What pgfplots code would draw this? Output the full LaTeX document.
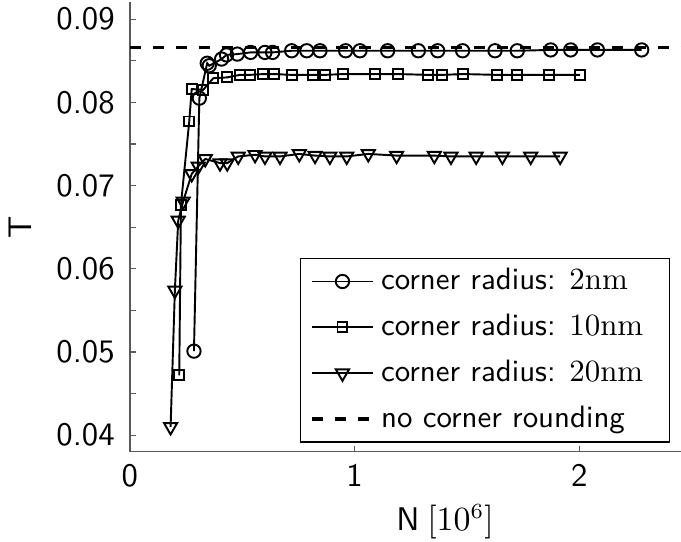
\documentclass[border=0pt]{standalone}
\usepackage{pgfplots}
\pgfplotsset{compat=1.18}
\begin{document}
\begin{tikzpicture}[font=\sffamily]
\begin{axis}[
  scale only axis, width=177.7bp, height=144.9bp,
  xmin=0, xmax=2.453, ymin=0.038, ymax=0.092,
  axis x line*=bottom, axis y line*=left,
  axis line style={black!65, line width=0.4bp},
  tick align=inside,
  major tick length=1.8bp, minor tick length=1.8bp,
  every tick/.style={black!65, line width=0.4bp},
  xtick={0,1,2}, xticklabels={0,1,2},
  ytick={0.04,0.05,0.06,0.07,0.08,0.09},
  yticklabels={0.04,0.05,0.06,0.07,0.08,0.09},
  minor ytick={0.045,0.055,0.065,0.075,0.085},
  tick label style={font=\fontsize{10.6}{12}\selectfont\sffamily},
  yticklabel style={xshift=-1.4bp},
  xticklabel style={yshift=-0.6bp},
  xlabel={N\hspace{2.5bp}$[10^6]$}, ylabel={T},
  label style={font=\fontsize{10.6}{12}\selectfont\sffamily},
  xlabel style={at={(ticklabel cs:0.572)}, anchor=near ticklabel, yshift=1.3bp},
  ylabel style={yshift=1.3bp},
  clip=false,
  legend cell align=left,
  legend style={at={(rel axis cs:0.3085,0.02)}, anchor=south west,
    draw=black, line width=0.5bp, row sep=2.4bp, inner ysep=1.2bp, font=\sffamily},
  legend image code/.code={\draw[mark repeat=2,mark phase=2] plot coordinates {(0cm,0cm) (0.35cm,0cm) (0.7cm,0cm)};},
]
\addplot[black, line width=0.62bp, mark=o, mark size=2.15bp, mark options={solid, line width=0.62bp}] coordinates {
(0.285,0.0501) (0.309,0.0805) (0.344,0.0847) (0.353,0.0844) (0.408,0.0852)
(0.430,0.0857) (0.478,0.0858) (0.537,0.0860) (0.601,0.0860) (0.635,0.0860)
(0.720,0.0862) (0.787,0.0862) (0.846,0.0862) (0.960,0.0862) (1.024,0.0862)
(1.147,0.0862) (1.284,0.0862) (1.370,0.0862) (1.481,0.0862) (1.625,0.0862)
(1.724,0.0862) (1.873,0.0863) (1.962,0.0863) (2.081,0.0863) (2.278,0.0863)
};
\addlegendentry{\makebox[88bp][l]{corner radius: $\mathrm{2nm}$}}
\addplot[black, line width=0.62bp, mark=square, mark size=1.6bp, mark options={solid, line width=0.62bp}] coordinates {
(0.2195,0.0472) (0.227,0.0677) (0.264,0.0777) (0.275,0.0816) (0.326,0.0815)
(0.371,0.0829) (0.433,0.0830) (0.490,0.0833) (0.534,0.0833) (0.594,0.0834)
(0.641,0.0834) (0.720,0.0833) (0.816,0.0833) (0.868,0.0833) (0.950,0.0834)
(1.091,0.0834) (1.195,0.0834) (1.325,0.0833) (1.390,0.0833) (1.484,0.0834)
(1.635,0.0833) (1.722,0.0833) (1.867,0.0833) (2.004,0.0833)
};
\addlegendentry{corner radius: $\mathrm{10nm}$}
\addplot[black, line width=0.62bp, mark=triangle, mark size=2.45bp, mark options={solid, rotate=180, line width=0.62bp}] coordinates {
(0.181,0.0410) (0.200,0.0574) (0.215,0.0658) (0.237,0.0681) (0.275,0.0714)
(0.304,0.0723) (0.335,0.0732) (0.401,0.0727) (0.433,0.0727) (0.482,0.0735)
(0.557,0.0737) (0.601,0.0735) (0.668,0.0735) (0.754,0.0738) (0.824,0.0736)
(0.890,0.0735) (0.965,0.0735) (1.061,0.0738) (1.187,0.0736) (1.355,0.0736)
(1.429,0.0735) (1.541,0.0735) (1.658,0.0735) (1.784,0.0735) (1.915,0.0735)
};
\addlegendentry{corner radius: $\mathrm{20nm}$}
\addplot[black, line width=1.1bp, dash pattern=on 3.6bp off 3.8bp] coordinates {(0,0.0866) (2.453,0.0866)};
\addlegendentry{no corner rounding}
\end{axis}
\pgfresetboundingbox
\path ([shift={(-41.9bp,-28.8bp)}]current axis.south west) rectangle ([shift={(0bp,0.8bp)}]current axis.north east);
\end{tikzpicture}
\end{document}
